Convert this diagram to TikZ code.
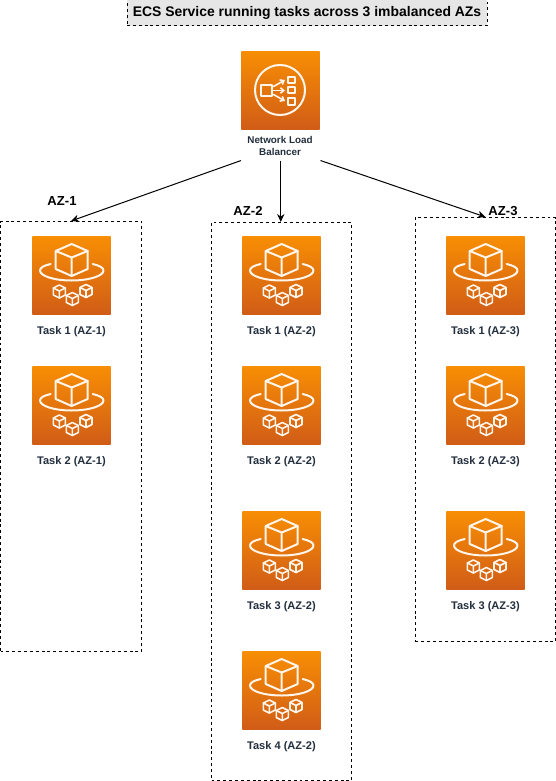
\documentclass[tikz,border=0pt]{standalone}
\usepackage{fontspec}
\setmainfont{Liberation Sans}
\usetikzlibrary{arrows.meta}
\definecolor{awstop}{HTML}{F78E04}
\definecolor{awsbot}{HTML}{D05C17}
\definecolor{awstext}{HTML}{232F3E}
\definecolor{titlefill}{HTML}{E6E6E6}
\tikzset{
  x=0.75pt,y=-0.75pt,
  iconbox/.style={rectangle,draw=none,inner sep=0pt,minimum width=58.75pt,minimum height=58.75pt,top color=awstop,bottom color=awsbot,shading angle=0},
  azbox/.style={rectangle,draw=black,line width=0.75pt,dashed,dash pattern=on 2.2pt off 2.2pt,inner sep=0pt},
  glyph/.style={draw=white!92!orange,line width=1.5pt,line join=round,line cap=round},
  tasklabel/.style={font=\bfseries\fontsize{8.3pt}{9pt}\selectfont,text=awstext,inner sep=0pt},
  azlabel/.style={font=\bfseries\fontsize{9.8pt}{11pt}\selectfont,text=black,inner sep=0pt},
  conn/.style={draw=black,line width=0.75pt,-{Stealth[length=6pt,width=5.5pt]}},
  smallcube/.pic={
    \draw[glyph,line width=1.2pt] (0,-6.5) -- (6,-3.5) -- (6,3.5) -- (0,6.5) -- (-6,3.5) -- (-6,-3.5) -- cycle;
    \draw[glyph,line width=1.2pt] (-6,-3.5) -- (0,-0.5) -- (6,-3.5) (0,-0.5) -- (0,6.5);
  },
  taskglyph/.pic={
    \draw[glyph] (39.7,8) -- (55.7,15) -- (55.7,33) -- (39.7,40) -- (23.7,33) -- (23.7,15) -- cycle;
    \draw[glyph] (23.7,15) -- (39.7,21.5) -- (55.7,15) (39.7,21.5) -- (39.7,40);
    \draw[glyph] (18.7,28) .. controls (12,29.5) and (8,31.5) .. (8,34.5)
       .. controls (8,40) and (22,44.5) .. (39.7,44.5)
       .. controls (57,44.5) and (71.5,40) .. (71.5,34.5)
       .. controls (71.5,31.5) and (67,29.5) .. (60.7,28);
    \path (27.3,55.5) pic {smallcube};
    \path (40.3,63) pic {smallcube};
    \path (54,55) pic {smallcube};
  },
  nlbglyph/.pic={
    \draw[glyph] (39,39) circle (25);
    \draw[glyph] (20.3,34) rectangle (31,44.7);
    \draw[glyph] (46.7,25.7) rectangle (54,31.7);
    \draw[glyph] (46.7,36.3) rectangle (54,42.3);
    \draw[glyph] (46.7,47.3) rectangle (54,54);
    \draw[glyph,line width=1.2pt,-{Straight Barb[length=2.5pt,width=4pt]}] (32.5,35.5) -- (44,29);
    \draw[glyph,line width=1.2pt,-{Straight Barb[length=2.5pt,width=4pt]}] (32.5,39.5) -- (44,39.5);
    \draw[glyph,line width=1.2pt,-{Straight Barb[length=2.5pt,width=4pt]}] (32.5,43.5) -- (44,50);
  },
}
\newcommand{\taskat}[4]{% name, left, top, label
  \node[iconbox,anchor=north west] (#1) at (#2,#3) {};
  \path (#2,#3) pic {taskglyph};
  \node[tasklabel] (#1l) at ([yshift=-12.7pt]#1.south) {#4};
}
\begin{document}
\begin{tikzpicture}
\useasboundingbox (0,0) rectangle (556,781);
\fill[white] (0,0) rectangle (556,781);
% title
\node[rectangle,draw=black,fill=titlefill,line width=0.75pt,dashed,dash pattern=on 2.2pt off 2.2pt,inner sep=0pt,
  minimum width=270pt,minimum height=20pt,anchor=center,
  font=\bfseries\fontsize{10.45pt}{12pt}\selectfont] (title) at (307,12.5) {ECS Service running tasks across 3 imbalanced AZs};
% AZ boxes
\node[azbox,minimum width=105.75pt,minimum height=322.5pt,anchor=north west] (az1) at (0,221) {};
\node[azbox,minimum width=105pt,minimum height=418.5pt,anchor=north west] (az2) at (211,222) {};
\node[azbox,minimum width=105pt,minimum height=318pt,anchor=north west] (az3) at (415,217) {};
% labels
\node[azlabel] (az1l) at (62,201) {AZ-1};
\node[azlabel] (az2l) at (248,211) {AZ-2};
\node[azlabel] (az3l) at (503,211) {AZ-3};
% NLB
\node[iconbox,anchor=north west] (nlb) at (241,51) {};
\path (241,51) pic {nlbglyph};
\node[font=\bfseries\fontsize{7.4pt}{9pt}\selectfont,text=awstext,align=center,inner sep=0pt] (nlbl) at (280,146) {Network Load\\Balancer};
\node[rectangle,draw=none,inner sep=0pt,minimum width=59.25pt,minimum height=81.75pt,anchor=north west] (nlbgroup) at (241,51) {};
% tasks
\taskat{ta}{32}{236}{Task 1 (AZ-1)}
\taskat{tb}{32}{366}{Task 2 (AZ-1)}
\taskat{tc}{242}{236}{Task 1 (AZ-2)}
\taskat{td}{242}{366}{Task 2 (AZ-2)}
\taskat{te}{242}{511}{Task 3 (AZ-2)}
\taskat{tf}{242}{651}{Task 4 (AZ-2)}
\taskat{tg}{446}{236}{Task 1 (AZ-3)}
\taskat{th}{446}{366}{Task 2 (AZ-3)}
\taskat{ti}{446}{511}{Task 3 (AZ-3)}
% connectors
\draw[conn] (nlbgroup.south west) -- (az1.north);
\draw[conn] (nlbgroup.south) -- (nlbgroup.south |- az2.north);
\draw[conn] (nlbgroup.south east) -- (az3.north);
\end{tikzpicture}
\end{document}
